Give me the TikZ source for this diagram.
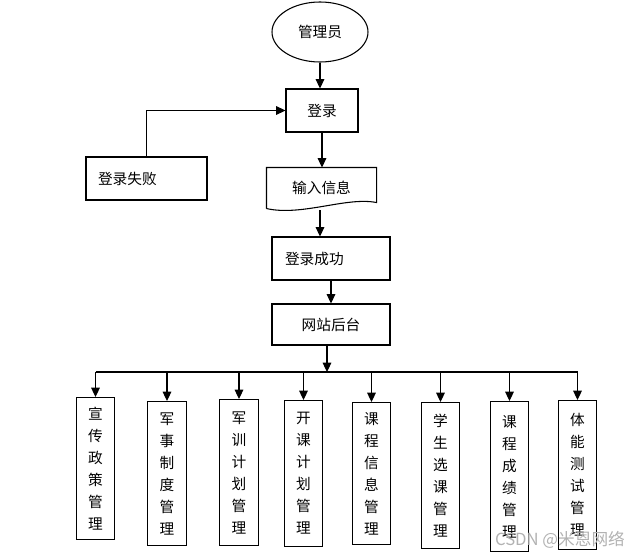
\documentclass[tikz,border=0pt]{standalone}
\usepackage{fontspec}
\setmainfont{Noto Sans CJK SC}
\usetikzlibrary{positioning, calc, arrows.meta, shapes.geometric}

\begin{document}
\begin{tikzpicture}[x=0.75pt, y=-0.75pt,
  box/.style={rectangle, draw=black, line width=0.8pt, minimum height=32.25pt, minimum width=54pt,
              inner sep=2pt, align=center, font=\fontsize{11pt}{16.5pt}\selectfont},
  leftbox/.style={box, align=left, inner xsep=9pt},
  startnode/.style={ellipse, draw=black, line width=0.8pt, minimum width=72pt, minimum height=45pt,
              inner sep=0pt, font=\fontsize{11pt}{16.5pt}\selectfont},
  vbox/.style={box, anchor=north, minimum width=29pt, inner sep=1pt},
  line/.style={draw=black, line width=0.8pt},
  arrow/.style={line, -{Triangle[length=7pt, width=6.5pt]}}
]
  \useasboundingbox (0,0) rectangle (643,557);

  % main column
  \node[startnode] (admin) at (320,32) {管理员};
  \node[box] (login) at (322,110.5) {登录};
  \node[leftbox, text width=72.75pt, minimum width=90.75pt] (fail) at (146.5,178.5) {登录失败};
  \node[box, draw=none, minimum width=81.75pt, minimum height=30pt] (input) at (321.5,188) {输入信息};
  \node[leftbox, text width=69pt, minimum width=88.5pt] (success) at (331,258.5) {登录成功};
  \node[box, minimum width=88.5pt, minimum height=30.75pt] (backend) at (331,324.5) {网站后台};
  \coordinate (inbot) at (320,210);
  \coordinate (hub) at (327,372);

  % document shape
  \draw[line] (input.south west) -- (input.north west) -- (input.north east) -- ($(input.south east)+(0,-6)$)
    .. controls ($(input.south)+(25,-12)$) and ($(input.south)+(-20,8)$) .. (input.south west);

  \draw[arrow] (admin.south) -- (admin.south |- login.north);
  \draw[arrow] (fail.north) |- (login.west);
  \draw[arrow] (login.south) -- (login.south |- input.north);
  \draw[arrow] (inbot) -- (inbot |- success.north);
  \draw[arrow] (success.south) -- (backend.north);
  \draw[arrow] (backend.south -| hub) -- (hub);

  % modules
  \foreach \n/\x/\t/\h/\txt in {
      1/95.5/397/106.5/{宣\\传\\政\\策\\管\\理},
      2/167/401/108/{军\\事\\制\\度\\管\\理},
      3/239/399/109.5/{军\\训\\计\\划\\管\\理},
      4/303.5/400/109.5/{开\\课\\计\\划\\管\\理},
      5/371.5/402/106.5/{课\\程\\信\\息\\管\\理},
      6/440.5/402/109.5/{学\\生\\选\\课\\管\\理},
      7/509.5/401/112.5/{课\\程\\成\\绩\\管\\理},
      8/577.5/400/111.75/{体\\能\\测\\试\\管\\理}}
    \node[vbox, minimum height=\h pt] (m\n) at (\x,\t) {\txt};

  \draw[line] (m1.north |- hub) -- (m8.north |- hub);
  \foreach \n in {1,...,8}
    \draw[arrow] (m\n.north |- hub) -- (m\n.north);

  \node[text=black!30, font=\fontsize{12.5pt}{14pt}\selectfont] (mark) at (560,540) {CSDN @米恩网络};
\end{tikzpicture}
\end{document}
